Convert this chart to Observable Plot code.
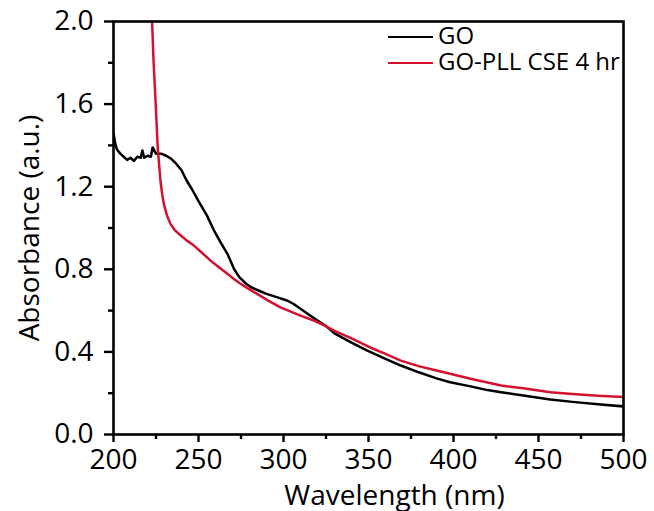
<!DOCTYPE html>
<html>
<head>
<meta charset="utf-8">
<script src="https://cdn.jsdelivr.net/npm/d3@7"></script>
<script src="https://cdn.jsdelivr.net/npm/@observablehq/plot@0.6"></script>
<style>
  html, body { margin: 0; padding: 0; background: #fff; }
  #wrap { position: relative; width: 654px; height: 511px; font-family: "Open Sans", sans-serif; }
  #wrap svg g[aria-label="x-axis tick"], #wrap svg g[aria-label="y-axis tick"] { stroke-width: 2.4px; stroke: #000; }
  #wrap svg g[aria-label="x-axis tick label"], #wrap svg g[aria-label="y-axis tick label"] { fill: #000; }
  .leg { position: absolute; left: 388px; font-size: 24px; line-height: 24px; height: 24px; color: #000; white-space: nowrap; }
  .leg span.sw { display: inline-block; width: 45px; height: 0; border-top: 2.5px solid; vertical-align: middle; margin-right: 5px; position: relative; top: -1px; }
</style>
</head>
<body>
<div id="wrap"></div>
<script>
const goWl = [200,201,202,204,206,208,210,212,214,216,217,218,220,222,223,225,228,231,234,237,240,243,246,250,255,259,263,267,271,274,278,281,286,290,296,302,306,310,315,320,325,330,340,349,359,369,380,390,398,410,420,428,440,457,470,485,500];
const goAbs = [1.46,1.41,1.38,1.36,1.345,1.33,1.34,1.325,1.345,1.34,1.375,1.34,1.35,1.345,1.39,1.36,1.36,1.35,1.335,1.31,1.28,1.23,1.19,1.13,1.06,0.99,0.93,0.875,0.80,0.762,0.73,0.713,0.695,0.681,0.665,0.649,0.632,0.609,0.58,0.552,0.525,0.49,0.445,0.407,0.37,0.334,0.30,0.272,0.253,0.233,0.215,0.205,0.19,0.17,0.158,0.146,0.136];
const pllWl = [222,222.7,223.5,224.7,226,227.6,228.6,229.6,231.5,233.5,236,238.4,243,247.3,252,257,262,267,271,274.7,280,284.5,291,298.2,305,310,317.8,324,330,340,350,360,369,380,390,398,410,428,440,457,470,485,500];
const pllAbs = [2.1,2.0,1.82,1.62,1.39,1.23,1.166,1.117,1.06,1.02,0.99,0.972,0.94,0.915,0.88,0.843,0.81,0.778,0.752,0.73,0.703,0.681,0.648,0.616,0.593,0.576,0.552,0.528,0.502,0.465,0.425,0.39,0.358,0.33,0.31,0.294,0.27,0.237,0.225,0.205,0.196,0.188,0.181];
const seriesNames = ["GO", "GO-PLL CSE 4 hr"];
const seriesColors = ["#000000", "#d5122e"];
const xMajor = [200,250,300,350,400,450,500];
const xMinor = [225,275,325,375,425,475];
const yMajor = [0,0.4,0.8,1.2,1.6,2.0];
const yMinor = [0.2,0.6,1.0,1.4,1.8];
const xLabel = "Wavelength (nm)";
const yLabel = "Absorbance (a.u.)";

const go = goWl.map((w, i) => ({w, a: goAbs[i]}));
const pll = pllWl.map((w, i) => ({w, a: pllAbs[i]}));

const W = 654, H = 511, mL = 113, mR = 31, mT = 21, mB = 77;
const fw = W - mL - mR, fh = H - mT - mB;

const chart = Plot.plot({
  width: W,
  height: H,
  marginLeft: mL,
  marginRight: mR,
  marginTop: mT,
  marginBottom: mB,
  style: {fontFamily: "Open Sans", fontSize: "28px", background: "#fff", overflow: "visible"},
  x: {domain: [200, 500], ticks: xMajor, tickSize: 8, tickPadding: 7, tickFormat: d => String(d), label: null},
  y: {domain: [0, 2], ticks: yMajor, tickSize: 9, tickPadding: 11, tickFormat: d => d.toFixed(1), label: null},
  marks: [
    Plot.tickX(xMinor, {x: d => d, insetTop: fh - 5, dy: 5, stroke: "#000", strokeWidth: 2.4}),
    Plot.tickY(yMinor, {y: d => d, insetRight: fw - 5, dx: -5, stroke: "#000", strokeWidth: 2.4}),
    Plot.line(go, {x: "w", y: "a", stroke: seriesColors[0], strokeWidth: 2.5, clip: true}),
    Plot.line(pll, {x: "w", y: "a", stroke: seriesColors[1], strokeWidth: 2.5, clip: true}),
    Plot.frame({stroke: "#000", strokeWidth: 2.6}),
    Plot.text([xLabel], {text: d => d, frameAnchor: "bottom", textAnchor: "middle", lineAnchor: "bottom", dy: 70, dx: 26, fontSize: 28, fill: "#000"}),
    Plot.text([yLabel], {text: d => d, frameAnchor: "left", textAnchor: "middle", rotate: -90, lineAnchor: "middle", dx: -83, fontSize: 28, fill: "#000"})
  ]
});
const wrap = document.getElementById("wrap");
wrap.appendChild(chart);
seriesNames.forEach((name, i) => {
  const div = document.createElement("div");
  div.className = "leg";
  div.style.top = (23 + i * 26) + "px";
  const sw = document.createElement("span");
  sw.className = "sw";
  sw.style.borderColor = seriesColors[i];
  div.appendChild(sw);
  div.appendChild(document.createTextNode(name));
  wrap.appendChild(div);
});
</script>
</body>
</html>
